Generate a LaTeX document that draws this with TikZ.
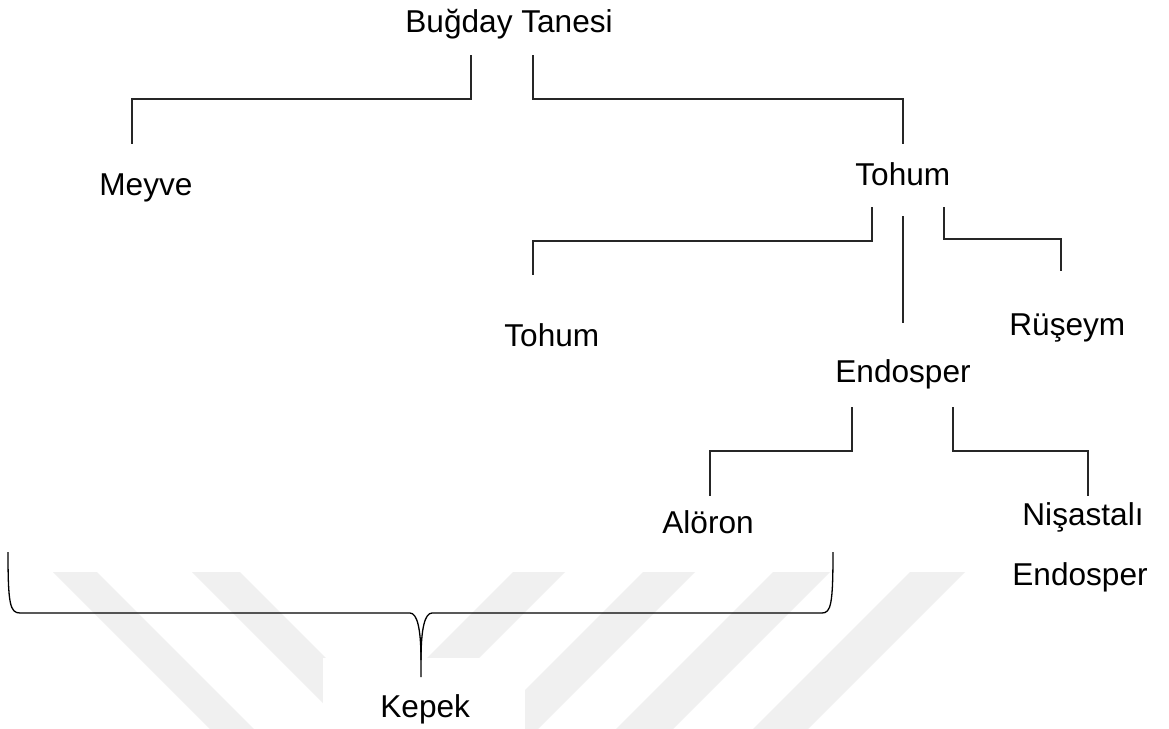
\documentclass[tikz,border=0pt]{standalone}
\usepackage{fontspec}
\setmainfont{Liberation Sans}
\definecolor{wm}{HTML}{F0F0F0}
\definecolor{ln}{HTML}{262626}
\begin{document}
\begin{tikzpicture}[x=0.5pt,y=-0.5pt,
  lbl/.style={inner sep=0pt, anchor=base west, font=\fontsize{15.8}{19}\selectfont},
  conn/.style={draw=ln, line width=0.6pt},
  bracepath/.style={draw=black, line width=0.65pt},
  stripe/.style={fill=wm, draw=none}]
\useasboundingbox (0,0) rectangle (1169,729);
\fill[white] (0,0) rectangle (1169,729);
% watermark
\fill[stripe] (53,572) -- (97,572) -- (254,729) -- (210,729) -- cycle;
\fill[stripe] (192,572) -- (240,572) -- (397,729) -- (349,729) -- cycle;
\fill[stripe] (513,572) -- (565,572) -- (408,729) -- (356,729) -- cycle;
\fill[stripe] (643,572) -- (695,572) -- (538,729) -- (486,729) -- cycle;
\fill[stripe] (773,572) -- (830,572) -- (673,729) -- (616,729) -- cycle;
\fill[stripe] (910,572) -- (965,572) -- (808,729) -- (753,729) -- cycle;
\fill[white] (323,658) rectangle (525,729);
% labels
\node[lbl] (bugday) at (405,32) {Buğday Tanesi};
\node[lbl] (meyve) at (99,195) {Meyve};
\node[lbl] (tohum) at (855,185) {Tohum};
\node[lbl] (tohumb) at (504,346) {Tohum};
\node[lbl] (endo) at (835,382) {Endosper};
\node[lbl] (ruseym) at (1009,335) {Rüşeym};
\node[lbl] (aloron) at (662,533) {Alöron};
\node[lbl,anchor=base] (nisasta) at (1083,525) {Nişastalı};
\node[lbl,anchor=base] (nisastab) at (1080,585) {Endosper};
\node[lbl] (kepek) at (380,717) {Kepek};
% connector ends
\coordinate (bL) at (471,55);
\coordinate (bR) at (533,55);
\coordinate (mT) at (132,144);
\coordinate (tT) at (903,144);
\coordinate (tL) at (872,207);
\coordinate (tM) at (903,216);
\coordinate (tR) at (944,207);
\coordinate (t2T) at (533,275);
\coordinate (eT) at (903,323);
\coordinate (rT) at (1061,271);
\coordinate (eL) at (852,407);
\coordinate (eR) at (953,407);
\coordinate (aT) at (710,496);
\coordinate (nT) at (1088,496);
\coordinate (brL) at (8,552);
\coordinate (brR) at (833,552);
\coordinate (brM) at (421,660);
\coordinate (kT) at (421,677);
% connectors
\draw[conn] (bL) -- ++(0,44) -| (mT);
\draw[conn] (bR) -- ++(0,44) -| (tT);
\draw[conn] (tL) -- ++(0,34) -| (t2T);
\draw[conn] (tM) -- (eT);
\draw[conn] (tR) -- ++(0,32) -| (rT);
\draw[conn] (eL) -- ++(0,44) -| (aT);
\draw[conn] (eR) -- ++(0,44) -| (nT);
% brace
\draw[bracepath] (brL) .. controls (8,604) and (10,613) .. (20,613) -- (410,613)
  .. controls (417,613) and (421,628) .. (brM) -- (kT);
\draw[bracepath] (brM) .. controls (421,628) and (425,613) .. (432,613) -- (822,613)
  .. controls (831,613) and (833,604) .. (brR);
\end{tikzpicture}
\end{document}
